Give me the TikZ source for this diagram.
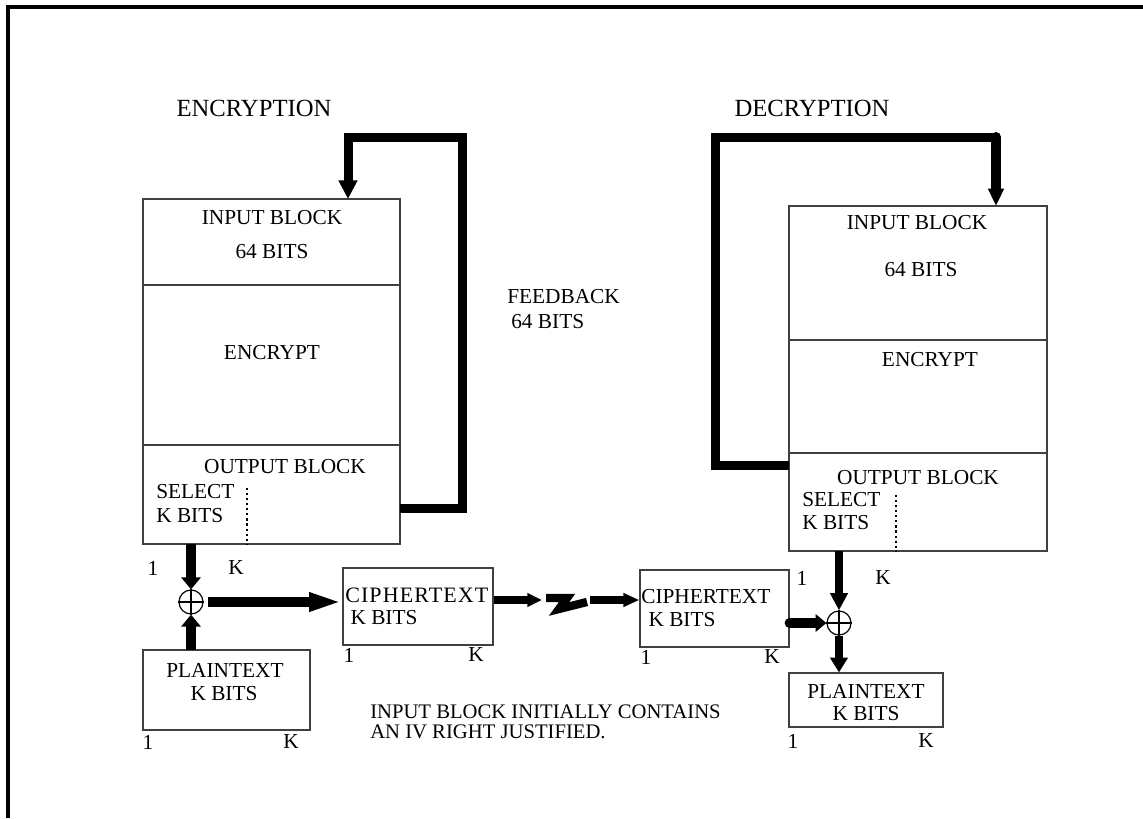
\documentclass[tikz,border=0pt]{standalone}
\usepackage{fontspec}
\setmainfont{Liberation Serif}
\newfontfamily\spacedB[LetterSpace=5]{Liberation Serif}
\usetikzlibrary{arrows.meta,fit,calc}
\begin{document}
\begin{tikzpicture}[x=0.75pt,y=-0.75pt,
  box/.style={draw=black!75, line width=0.9pt, inner sep=0pt},
  lbl/.style={font=\fontsize{16}{18}\selectfont, inner sep=0pt},
  note/.style={font=\fontsize{15.5}{17}\selectfont, inner sep=0pt, anchor=west},
  ttl/.style={font=\fontsize{18.5}{20}\selectfont, inner sep=0pt},
  xorc/.style={circle, draw=black, line width=0.9pt, minimum size=18pt, inner sep=0pt},
  fbline/.style={line width=6.75pt},
  fat/.style={line width=8pt},
  mid/.style={line width=6.25pt},
  dotv/.style={line width=1.4pt, dash pattern=on 1.6pt off 2.2pt},
]
\useasboundingbox (0,0) rectangle (1143,818);
% frame
\draw[line width=3pt] (8,818) -- (8,7) -- (1143,7);

% titles
\node[ttl] (enc) at (254,108) {ENCRYPTION};
\node[ttl] (dec) at (812,108) {DECRYPTION};

% ---------- left (encryption) block
\node[box, fit={(143,199)(400,285)}] (ein) {};
\node[box, fit={(143,285)(400,445)}] (emid) {};
\node[box, fit={(143,445)(400,544)}] (eout) {};
\node[lbl] (einT) at (272,218) {INPUT BLOCK};
\node[lbl] (einB) at (272,252) {64 BITS};
\node[lbl] (emidT) at (272,353) {ENCRYPT};
\node[lbl] (eoutT) at (285,467) {OUTPUT BLOCK};
\node[lbl, anchor=west] (eselA) at (156,492) {SELECT};
\node[lbl, anchor=west] (eselB) at (156,516) {K BITS};
\coordinate (edA) at (247,488);
\coordinate (edB) at (247,544);
\draw[dotv] (edA) -- (edB);

% feedback (encryption)
\coordinate (efb0) at (400,508);
\coordinate (efb1) at (462,508);
\coordinate (efb2) at (462,137);
\coordinate (efb3) at (348,137);
\coordinate (efb4) at (348,199);
\draw[fbline] (efb0) -- (efb1) -- (efb2) -- (efb3) -- ($(efb3)+(0,40)$);
\draw[fbline, -{Triangle[width=13.5pt,length=14pt]}] ($(efb3)+(0,38)$) -- (efb4);

\node[lbl, anchor=west] (fbA) at (507,297) {FEEDBACK};
\node[lbl, anchor=west] (fbB) at (511,322) {64 BITS};

% XOR encryption
\node[xorc] (x1) at (191,602) {};
\draw[line width=0.9pt] (x1.north) -- (x1.south) (x1.west) -- (x1.east);
\node[lbl] (e1) at (153,568) {1};
\node[lbl] (eK) at (236,568) {K};
\coordinate (eoutS) at (191,544);
\draw[fat, -{Triangle[width=14.25pt,length=9pt]}] (eoutS) -- (x1.north);

% plaintext (left)
\node[box, fit={(143,650)(310,730)}] (pl) {};
\node[lbl] (plA) at (225,670) {PLAINTEXT};
\node[lbl] (plB) at (224,694) {K BITS};
\node[lbl] (pl1) at (148,742) {1};
\node[lbl] (plK) at (291,742) {K};
\coordinate (plN) at (191,650);
\draw[fat, -{Triangle[width=14.25pt,length=9pt]}] (plN) -- (x1.south);

% ciphertext (left)
\node[box, fit={(343,568)(493,645)}] (c1) {};
\node[lbl, anchor=west, font=\spacedB\fontsize{16.5}{18}\selectfont] (c1A) at (345,595) {CIPHERTEXT};
\node[lbl] (c1B) at (384,618) {K BITS};
\node[lbl] (c11) at (349,655) {1};
\node[lbl] (c1K) at (476,655) {K};
\draw[fat, -{Triangle[width=12.75pt,length=25pt]}] ($(x1.east)+(4,0)$) -- (c1.west |- x1.east);

% transmission
\node[box, fit={(640,570)(789,647)}] (c2) {};
\node[lbl, anchor=west] (c2A) at (641,597) {CIPHERTEXT};
\node[lbl] (c2B) at (682,620) {K BITS};
\node[lbl] (c21) at (646,657) {1};
\node[lbl] (c2K) at (772,657) {K};
\coordinate (z0) at (546,598);
\coordinate (z1) at (567,598);
\coordinate (z2) at (559,609);
\coordinate (z3) at (587,602);
\draw[mid, -{Triangle[width=9.75pt,length=11pt]}] (c1.east |- 0,600) -- (542,600);
\draw[mid, line join=miter] (z0) -- (z1) -- (z2) -- (z3);
\draw[mid, -{Triangle[width=9.75pt,length=12pt]}] (590,600) -- (c2.west |- 0,600);

% ---------- right (decryption) block
\node[box, fit={(789,206)(1047,340)}] (din) {};
\node[box, fit={(789,340)(1047,453)}] (dmid) {};
\node[box, fit={(789,453)(1047,551)}] (dout) {};
\node[lbl] (dinT) at (917,223) {INPUT BLOCK};
\node[lbl] (dinB) at (921,270) {64 BITS};
\node[lbl] (dmidT) at (930,360) {ENCRYPT};
\node[lbl] (doutT) at (918,478) {OUTPUT BLOCK};
\node[lbl, anchor=west] (dselA) at (802,500) {SELECT};
\node[lbl, anchor=west] (dselB) at (802,523) {K BITS};
\coordinate (ddA) at (896,495);
\coordinate (ddB) at (896,551);
\draw[dotv] (ddA) -- (ddB);

% feedback (decryption)
\coordinate (dfb0) at (789,465);
\coordinate (dfb1) at (715,465);
\coordinate (dfb2) at (715,137);
\coordinate (dfb3) at (996,137);
\coordinate (dfb4) at (996,206);
\draw[fbline] (dfb0) -- (dfb1) -- (dfb2) -- (dfb3);
\draw[line width=7.5pt, line cap=round, -{Triangle[width=11.25pt,length=13pt]}] (dfb3) -- (dfb4);

% XOR decryption
\node[xorc] (x2) at (839,623) {};
\draw[line width=0.9pt] (x2.north) -- (x2.south) (x2.west) -- (x2.east);
\node[lbl] (d1) at (802,578) {1};
\node[lbl] (dK) at (883,578) {K};
\coordinate (doutS) at (839,551);
\draw[mid, -{Triangle[width=12.75pt,length=13pt]}] (doutS) -- (x2.north);
\draw[line width=7.5pt, line cap=round, -{Triangle[width=12.75pt,length=8pt]}] (c2.east |- x2.west) -- (x2.west);

% plaintext (right)
\node[box, fit={(789,673)(943,727)}] (pr) {};
\node[lbl] (prA) at (866,691) {PLAINTEXT};
\node[lbl] (prB) at (866,714) {K BITS};
\node[lbl] (pr1) at (793,741) {1};
\node[lbl] (prK) at (926,741) {K};
\draw[mid, -{Triangle[width=12.75pt,length=11pt]}] (x2.south) -- (pr.north -| x2.south);

% note
\node[note] (n1) at (370,712) {INPUT BLOCK INITIALLY CONTAINS};
\node[note] (n2) at (370,732) {AN IV RIGHT JUSTIFIED.};
\end{tikzpicture}
\end{document}
